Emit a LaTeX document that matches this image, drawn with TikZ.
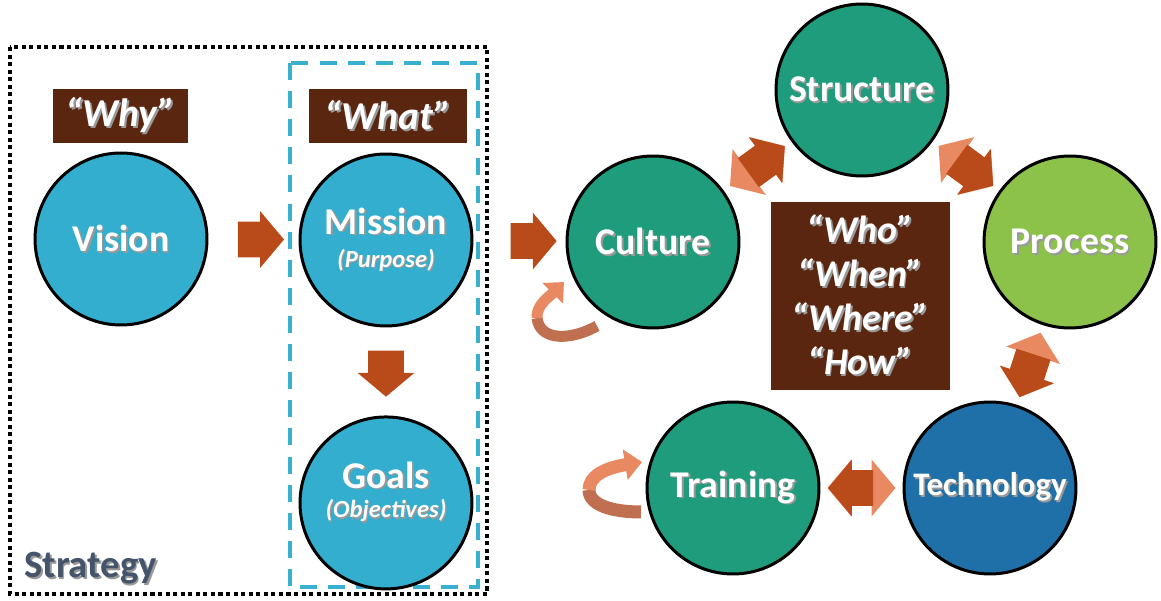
\documentclass[tikz,border=0pt]{standalone}
\usepackage{fontspec}
\setmainfont{Carlito}
\usetikzlibrary{positioning,shapes.arrows,calc,arrows.meta}
\definecolor{VisBlue}{RGB}{52,174,206}
\definecolor{TeamGreen}{RGB}{31,156,123}
\definecolor{ProcGreen}{RGB}{140,193,74}
\definecolor{TechBlue}{RGB}{31,111,168}
\definecolor{BoxBrown}{RGB}{91,38,16}
\definecolor{ArrDark}{RGB}{185,75,27}
\definecolor{ArrLight}{RGB}{233,137,97}
\definecolor{CycDark}{RGB}{192,112,80}
\definecolor{DashBlue}{RGB}{58,176,208}
\definecolor{StratGray}{RGB}{68,84,106}
\newcommand{\dropsh}[1]{\leavevmode\rlap{\kern0.05em\raisebox{-0.05em}{\textcolor{black!40}{#1}}}#1}

\begin{document}
\begin{tikzpicture}[x=0.02cm,y=-0.02cm,
circ/.style={circle,draw=black,line width=1.7pt,minimum size=3.44cm,inner sep=0pt,
text=white,align=center,font=\bfseries\fontsize{21.5}{20}\selectfont},
tag/.style={rectangle,fill=BoxBrown,text=white,minimum height=1.08cm,inner sep=0pt,
font=\bfseries\itshape\fontsize{22.5}{25}\selectfont},
flow/.style={single arrow,fill=ArrDark,draw=none,inner xsep=0pt,inner ysep=0.35cm,
minimum height=0.92cm,single arrow head extend=0.21cm,single arrow tip angle=100},
twoway/.style={double arrow,fill=ArrLight,draw=none,inner xsep=0pt,inner ysep=0.35cm,
minimum height=1.36cm,double arrow head extend=0.21cm,double arrow tip angle=100,
sloped,allow upside down},
oneway/.style={flow,minimum height=0.9cm,sloped,allow upside down,anchor=tip},
cyc/.style={line width=0.22cm,draw=ArrLight,-{Triangle[width=0.56cm,length=0.32cm]}},
cycdark/.style={line width=0.22cm,draw=CycDark}
]
\useasboundingbox (0,0) rectangle (1161,601);

% strategy frame
\draw[line width=2.3pt,dash pattern=on 2.3pt off 2pt] (10,47) rectangle (487,594);
\draw[DashBlue,line width=2.2pt,dash pattern=on 9.7pt off 6.3pt] (290,63) rectangle (478,587);
\node[anchor=base west,inner sep=0pt,text=StratGray,font=\bfseries\fontsize{22}{24}\selectfont]
(strategy) at (24,578) {\dropsh{Strategy}};

\node[tag,minimum width=2.7cm] (why) at (120.5,116) {\dropsh{“Why”}};
\node[tag,minimum width=3.16cm] (what) at (388,116) {\dropsh{“What”}};

\node[circ,fill=VisBlue] (vision) at (121,239) {\dropsh{Vision}};
\node[circ,fill=VisBlue] (mission) at (386,240)
{\dropsh{Mission}\\[-1pt]{\fontsize{14}{16}\selectfont\itshape\dropsh{(Purpose)}}};
\node[circ,fill=VisBlue,below=1.76cm of mission,text depth=15pt] (goals)
{\dropsh{Goals}\\[-3pt]{\fontsize{14}{16}\selectfont\itshape\dropsh{(Objectives)}}};

% execution side
\node[circ,fill=TeamGreen] (culture) at (653,242) {\dropsh{Culture}};
\node[circ,fill=TeamGreen] (structure) at (862,90) {\dropsh{Structure}};
\node[circ,fill=ProcGreen] (process) at (1070,242) {\dropsh{Process}};
\node[circ,fill=TechBlue,font=\bfseries\fontsize{18.7}{20}\selectfont] (technology) at (990,488) {\dropsh{Technology}};
\node[circ,fill=TeamGreen] (training) at (733,488) {\dropsh{Training}};

\node[tag,minimum width=3.58cm,minimum height=3.76cm,align=center,
font=\bfseries\itshape\fontsize{21.5}{25}\selectfont] (questions) at (860.5,296)
{\dropsh{“Who”}\\\dropsh{“When”}\\\dropsh{“Where”}\\\dropsh{“How”}};

\node[flow] at ($(vision)!.5!(mission)$) {};
\node[flow,rotate=-90] at ($(mission)!.48!(goals)$) {};
\node[flow] at ($(mission)!.525!(culture)$) {};

\path (culture.center) -- (structure.center) node[twoway,pos=.5] {} node[oneway,pos=.632] {};
\path (structure.center) -- (process.center) node[twoway,pos=.5] {} node[oneway,pos=.632] {};
\path (process.center) -- (technology.center) node[twoway,pos=.5] {} node[oneway,pos=.632] {};
\path (technology.center) -- (training.center) node[twoway,pos=.5] {} node[oneway,pos=.632] {};

\begin{scope}[shift={(culture.center)}]
\draw[cycdark] (-56,84) .. controls (-81,98) and (-113,100) .. (-116,76);
\draw[cyc] (-116,76) .. controls (-117,63) and (-103,54) .. (-89,40);
\end{scope}
\begin{scope}[shift={(training.center)}]
\draw[cycdark,line width=0.26cm] (-92,24) .. controls (-121,24) and (-144,17) .. (-144,2);
\draw[cyc,line width=0.26cm,-{Triangle[width=0.6cm,length=0.34cm]}] (-144,2) .. controls (-144,-12) and (-128,-20) .. (-91,-26);
\end{scope}
\end{tikzpicture}
\end{document}
